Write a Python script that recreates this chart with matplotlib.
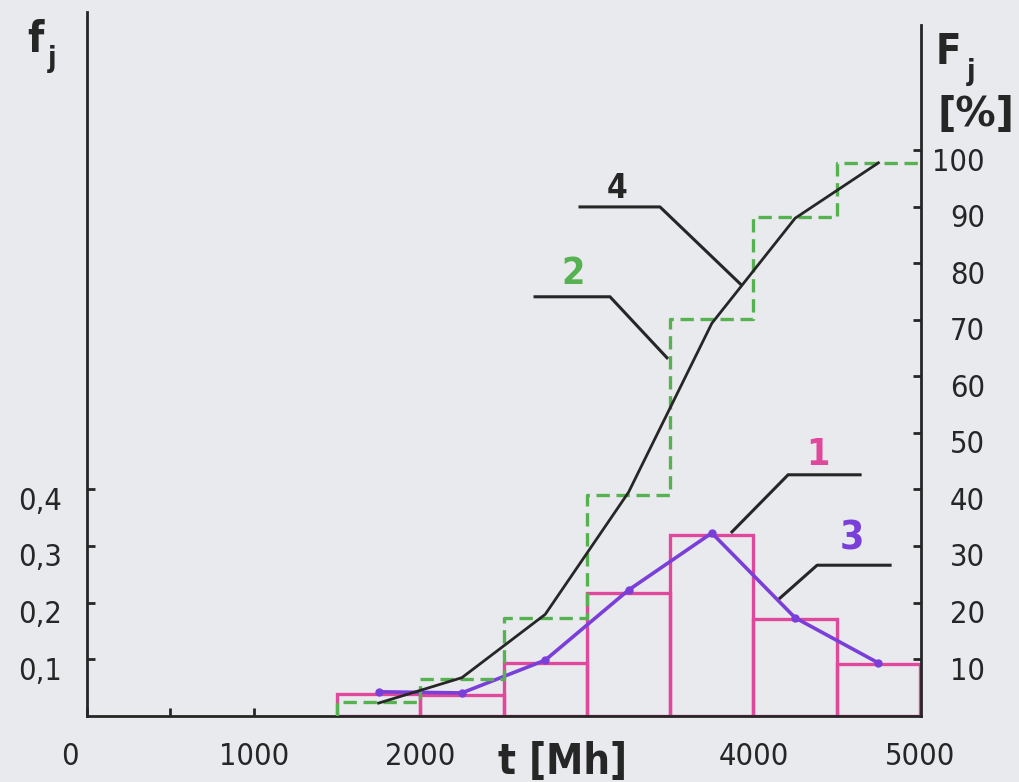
import numpy as np
import matplotlib.pyplot as plt
from matplotlib.transforms import ScaledTranslation

# class edges of t [Mh] and class centres
edges = [1500, 2000, 2500, 3000, 3500, 4000, 4500, 5000]
mids = [1750, 2250, 2750, 3250, 3750, 4250, 4750]

# 1 - histogram of relative frequencies f_j (pink)
f_hist = [0.038, 0.036, 0.093, 0.217, 0.319, 0.171, 0.091]
# 2 - cumulative frequency F_j [%], step line (green dashed)
F_step = [2.4, 6.5, 17.3, 39.0, 70.1, 88.2, 97.8]
# 3 - frequency polygon (purple)
f_poly = [0.042, 0.040, 0.098, 0.222, 0.323, 0.173, 0.093]
# 4 - cumulative curve (black)
F_curve = [2.2, 6.7, 17.9, 39.5, 69.4, 88.0, 97.8]

f_ticks = [0.1, 0.2, 0.3, 0.4]
f_labels = ['0,1', '0,2', '0,3', '0,4']
F_ticks = [10, 20, 30, 40, 50, 60, 70, 80, 90, 100]
t_major = [0, 1000, 2000, 4000, 5000]
t_major_labels = ['0', '1000', '2000', '4000', '5000']
t_minor = [500, 1500, 2500, 3000, 3500, 4500]

PINK = '#e0489c'
GREEN = '#56b150'
PURPLE = '#7a3fd8'
INK = '#262626'
BG = '#e9eaee'

plt.rcParams['font.family'] = ['DejaVu Sans']
plt.rcParams['font.stretch'] = 'condensed'

fig = plt.figure(figsize=(10.19, 7.82), dpi=100, facecolor=BG)
ax = fig.add_axes([0.0854, 0.085, 0.8185, 0.8997])
ax.set_facecolor(BG)
ax2 = ax.twinx()

xmax = 5006
ax.set_xlim(0, xmax)
ax.set_ylim(0, 1.245)
ax2.set_ylim(0, 124.5)

# 1 histogram
ax.bar(edges[:-1], f_hist, width=500, align='edge', fill=False,
       edgecolor=PINK, linewidth=2.4, zorder=2)
# 3 polygon
ax.plot(mids, f_poly, color=PURPLE, lw=2.6, marker='o', ms=5, zorder=4)

# 2 cumulative steps
xs = [edges[0]] + edges[:-1] + [xmax]
ys = [0] + F_step + [F_step[-1]]
ax2.plot(xs, ys, drawstyle='steps-post', color=GREEN, lw=2.4,
         dashes=(4, 2), zorder=3)
# 4 cumulative curve
ax2.plot(mids, F_curve, color=INK, lw=2.0, zorder=4)

# spines
for s in ['top', 'right']:
    ax.spines[s].set_visible(False)
for s in ['top', 'left', 'bottom']:
    ax2.spines[s].set_visible(False)
for sp in [ax.spines['left'], ax.spines['bottom'], ax2.spines['right']]:
    sp.set_linewidth(2.0)
    sp.set_color(INK)
    sp.set_zorder(6)
ax2.spines['right'].set_bounds(0, 122.2)

tick_font = dict(fontsize=22, color=INK)
ax.set_xticks(t_major)
ax.set_xticklabels(t_major_labels, **tick_font)
ax.set_xticks(t_minor, minor=True)
ax.set_yticks(f_ticks)
ax.set_yticklabels(f_labels, **tick_font)
ax.tick_params(axis='x', which='both', direction='in', length=6, width=2,
               color=INK, pad=19)
ax.tick_params(axis='y', direction='in', length=6, width=2, color=INK, pad=18)
ax2.set_yticks(F_ticks)
ax2.set_yticklabels([str(v) for v in F_ticks], **tick_font)
ax2.tick_params(axis='y', direction='in', length=6, width=2, color=INK, pad=46)

down = ScaledTranslation(0, -9 / 100, fig.dpi_scale_trans)
for lab in ax.get_yticklabels():
    lab.set_transform(lab.get_transform() + down)
for lab in ax2.get_yticklabels():
    lab.set_transform(lab.get_transform() + down)
    lab.set_horizontalalignment('right')
xl = ax.get_xticklabels()
xl[0].set_transform(xl[0].get_transform()
                    + ScaledTranslation(-17 / 100, 0, fig.dpi_scale_trans))

# leader lines and curve numbers
lead = dict(color=INK, lw=2.2, zorder=5, clip_on=False)
ax.plot([2959, 3439, 3920], [0.900, 0.900, 0.764], **lead)
ax.plot([2689, 3139, 3481], [0.741, 0.741, 0.633], **lead)
ax.plot([4640, 4208, 3871], [0.426, 0.426, 0.325], **lead)
ax.plot([4820, 4382, 4160], [0.266, 0.266, 0.208], **lead)

num = dict(ha='center', va='center', fontweight='bold')
ax.text(3181, 0.933, '4', color=INK, fontsize=24, **num)
ax.text(2917, 0.781, '2', color=GREEN, fontsize=27, **num)
ax.text(4388, 0.461, '1', color=PINK, fontsize=27, **num)
ax.text(4592, 0.314, '3', color=PURPLE, fontsize=28, **num)

# axis titles
fig.text(0.5525, 0.0256, 't [Mh]', fontsize=30, fontweight='bold',
         color=INK, ha='center', va='center')
fig.text(0.0343, 0.949, 'f', fontsize=30, fontweight='bold', color=INK,
         ha='center', va='center')
fig.text(0.051, 0.924, 'j', fontsize=20, fontweight='bold', color=INK,
         ha='center', va='center')
fig.text(0.931, 0.9335, 'F', fontsize=30, fontweight='bold', color=INK,
         ha='center', va='center')
fig.text(0.953, 0.908, 'j', fontsize=20, fontweight='bold', color=INK,
         ha='center', va='center')
fig.text(0.958, 0.853, '[%]', fontsize=29, fontweight='bold', color=INK,
         ha='center', va='center', fontstretch='normal')

fig.savefig('out.png', dpi=100, facecolor=BG)
